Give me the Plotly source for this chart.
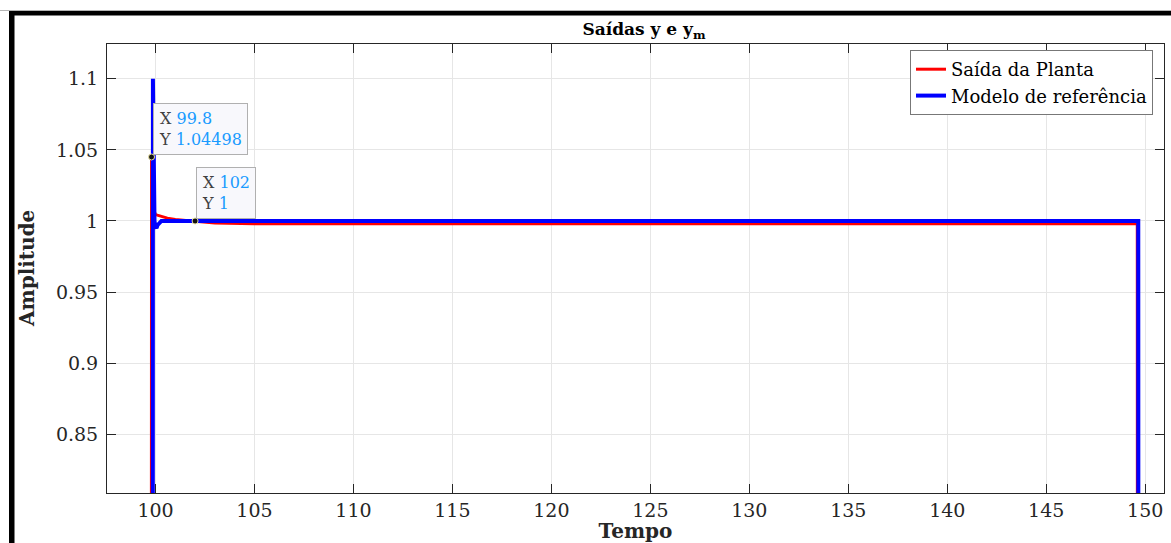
import plotly.graph_objects as go

# ---- data ----
t_plant = [97.5, 99.77, 99.8, 99.85, 99.9, 100.0, 100.1, 100.3, 100.6, 101.0, 101.5, 102.0, 103.0, 105.0, 149.6, 149.62, 151.0]
y_plant = [0.0, 0.0, 1.04498, 1.02, 1.008, 1.0045, 1.004, 1.003, 1.002, 1.001, 1.0003, 1.0, 0.9985, 0.998, 0.998, 0.0, 0.0]

t_model = [97.5, 99.85, 99.87, 99.9, 99.95, 100.0, 100.05, 100.1, 100.2, 100.3, 100.5, 149.65, 149.67, 151.0]
y_model = [0.0, 0.0, 1.1, 1.06, 1.0, 0.996, 0.995, 0.997, 0.999, 1.0, 1.0, 1.0, 0.0, 0.0]

tips_x = [99.8, 102]
tips_y = [1.04498, 1]
tips_xlabel = ["99.8", "102"]
tips_ylabel = ["1.04498", "1"]

x_ticks = [100, 105, 110, 115, 120, 125, 130, 135, 140, 145, 150]
y_ticks = [0.85, 0.9, 0.95, 1.0, 1.05, 1.1]
y_ticktext = ["0.85", "0.9", "0.95", "1", "1.05", "1.1"]

FONT = "DejaVu Serif"
W, H = 1171, 543
ML, MR, MT, MB = 107, 7, 44, 50

fig = go.Figure()
fig.add_trace(go.Scatter(x=t_plant, y=y_plant, mode="lines", name="Saída da Planta",
                         line=dict(color="#ff0000", width=3)))
fig.add_trace(go.Scatter(x=t_model, y=y_model, mode="lines", name="Modelo de referência",
                         line=dict(color="#0000ff", width=4)))
fig.add_trace(go.Scatter(x=tips_x, y=tips_y, mode="markers", showlegend=False,
                         marker=dict(color="#111111", size=6, line=dict(color="#e8e0a0", width=1))))

for xv, yv, xl, yl in zip(tips_x, tips_y, tips_xlabel, tips_ylabel):
    fig.add_annotation(x=xv, y=yv, xref="x", yref="y", showarrow=False,
                       xanchor="left", yanchor="bottom", xshift=1, yshift=2, align="left",
                       text=("X <span style='color:#1a9bff'>%s</span><br>Y <span style='color:#1a9bff'>%s</span>" % (xl, yl)),
                       font=dict(family=FONT, size=16, color="#404040"),
                       bgcolor="#f8f8fc", bordercolor="#b0b0b0", borderwidth=1, borderpad=5)

pw = W - ML - MR
ph = H - MT - MB
def px(x):
    return (x - ML) / pw
def py(y):
    return 1 - (y - MT) / ph

# screenshot frame: gray line, black top and left borders
fig.add_shape(type="rect", xref="paper", yref="paper", x0=px(0), x1=px(W), y0=py(11), y1=py(10),
              fillcolor="#b4b4b4", line_width=0, layer="above")
fig.add_shape(type="rect", xref="paper", yref="paper", x0=px(9), x1=px(W), y0=py(15.5), y1=py(11),
              fillcolor="#000000", line_width=0, layer="above")
fig.add_shape(type="rect", xref="paper", yref="paper", x0=px(9), x1=px(14.5), y0=py(H), y1=py(11),
              fillcolor="#000000", line_width=0, layer="above")

axis_common = dict(showline=True, linecolor="#262626", linewidth=1, mirror="ticks",
                   ticks="inside", ticklen=9, tickcolor="#262626", automargin=False,
                   showgrid=True, gridcolor="#e6e6e6", gridwidth=1, zeroline=False,
                   tickfont=dict(family=FONT, size=19, color="#262626"))

fig.update_xaxes(range=[97.55, 150.95], tickvals=x_ticks, **axis_common,
                 title=dict(text="<b>Tempo</b>", font=dict(family=FONT, size=20, color="#262626"), standoff=3))
fig.update_yaxes(range=[0.8088, 1.1244], tickvals=y_ticks, ticktext=y_ticktext, ticklabelstandoff=4, **axis_common)

fig.add_annotation(xref="paper", yref="paper", x=px(27), y=py(269), xanchor="center", yanchor="middle",
                   text="<b>Amplitude</b>", textangle=-90, showarrow=False,
                   font=dict(family=FONT, size=20, color="#262626"))

fig.update_layout(
    width=W, height=H,
    margin=dict(l=ML, r=MR, t=MT, b=MB),
    paper_bgcolor="white", plot_bgcolor="white",
    title=dict(text="<b>Saídas y e y<sub>m</sub></b>", x=px(644), xref="paper", xanchor="center",
               y=1 - 29 / H, yanchor="middle", font=dict(family=FONT, size=17, color="#000000")),
    legend=dict(x=px(1153), y=py(50), xanchor="right", yanchor="top",
                bgcolor="white", bordercolor="#777777", borderwidth=1,
                font=dict(family=FONT, size=18, color="#000000"),
                tracegroupgap=0, itemwidth=30),
    showlegend=True,
)

fig.write_html("out.html")
